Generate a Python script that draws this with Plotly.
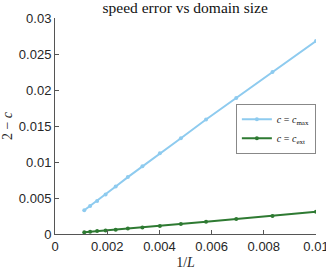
import plotly.graph_objects as go

inv_L = [0.01, 0.008333, 0.006944, 0.005787, 0.004823, 0.004019, 0.003349,
         0.002791, 0.002326, 0.001938, 0.001615, 0.001346, 0.001122]
err_cmax = [0.0268, 0.0225, 0.0189, 0.0159, 0.0133, 0.0112, 0.0094,
            0.0079, 0.0066, 0.0055, 0.0046, 0.0039, 0.0033]
err_cext = [0.0031, 0.0025, 0.0021, 0.0017, 0.0014, 0.0011, 0.0009,
            0.00075, 0.0006, 0.00048, 0.0004, 0.0003, 0.00025]
x_ticks = [0, 0.002, 0.004, 0.006, 0.008, 0.01]
x_ticktext = ["0", "0.002", "0.004", "0.006", "0.008", "0.01"]
y_ticks = [0, 0.005, 0.01, 0.015, 0.02, 0.025, 0.03]
y_ticktext = ["0", "0.005", "0.01", "0.015", "0.02", "0.025", "0.03"]

blue = "#8ecbef"
green = "#2e7a32"
serif = "Liberation Serif"
sans = "Liberation Sans"

fig = go.Figure()
fig.add_trace(go.Scatter(x=inv_L, y=err_cmax, mode="lines+markers",
                         name="<i>c</i> = <i>c</i><sub>max</sub>",
                         line=dict(color=blue, width=2),
                         marker=dict(color=blue, size=4)))
fig.add_trace(go.Scatter(x=inv_L, y=err_cext, mode="lines+markers",
                         name="<i>c</i> = <i>c</i><sub>ext</sub>",
                         line=dict(color=green, width=2),
                         marker=dict(color=green, size=4)))

axis_common = dict(showgrid=False, zeroline=False, showline=True,
                   linecolor="#555555", linewidth=1, ticks="inside",
                   ticklen=4, tickcolor="#555555", automargin=False,
                   ticklabeloverflow="allow",
                   tickfont=dict(family=sans, size=13, color="#262626"))

fig.update_layout(
    width=326, height=274,
    margin=dict(l=55, r=10, t=18, b=40),
    paper_bgcolor="white", plot_bgcolor="white",
    title=dict(text="speed error vs domain size", x=0.568, xanchor="center",
               y=0.994, yanchor="top", pad=dict(t=0, b=0),
               font=dict(family=serif, size=15.5, color="#111111")),
    xaxis=dict(range=[0, 0.01], tickvals=x_ticks, ticktext=x_ticktext,
               title=dict(text="1/<i>L</i>", standoff=4,
                          font=dict(family=serif, size=14, color="#262626")),
               **axis_common),
    yaxis=dict(range=[0, 0.03], tickvals=y_ticks, ticktext=y_ticktext,
               title=dict(text="2 − <i>c</i>", standoff=6,
                          font=dict(family=serif, size=14, color="#262626")),
               **axis_common),
    legend=dict(x=0.693, y=0.603, xanchor="left", yanchor="top",
                bgcolor="white", bordercolor="#888888", borderwidth=1,
                font=dict(family=serif, size=10, color="#111111"),
                tracegroupgap=0, itemwidth=30),
    showlegend=True,
)

fig.write_html("out.html",
               config={"displayModeBar": False},
               post_script="document.body.style.margin='0';")
